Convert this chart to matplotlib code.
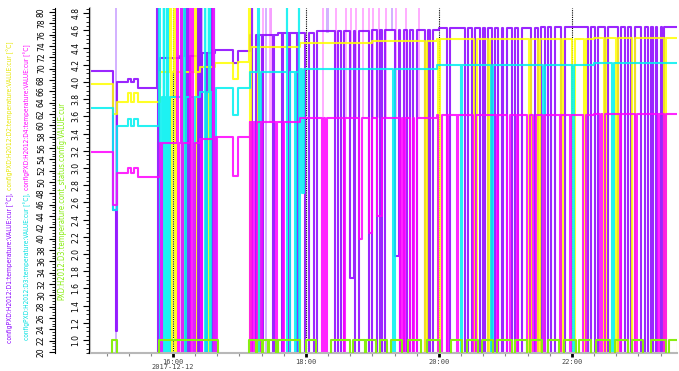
import numpy as np
import pandas as pd
import matplotlib
matplotlib.use("Agg")
import matplotlib.pyplot as plt
import matplotlib.dates as mdates
from matplotlib.ticker import MultipleLocator, FixedLocator, FixedFormatter, FormatStrFormatter

T0 = pd.Timestamp("2017-12-12 14:00")

# plateau levels: minutes after 14:00 -> degC
d1_t = [44, 69.5, 79.3, 82, 84.7, 88.4, 108.2, 126, 144.4, 158, 174.2, 178.7, 189.6, 215, 250, 300, 360, 450, 520, 576]
d1_v = [69.6, 67.6, 68.2, 67.6, 68.2, 66.6, 71.9, 72.2, 72.8, 73.3, 71.0, 73.1, 75.9, 76.3, 76.6, 76.9, 77.2, 77.3, 77.4, 77.4]
d2_t = [44, 69.5, 79.3, 82, 84.7, 88.4, 108.2, 144.4, 158, 174.2, 178.7, 189.6, 234.6, 300, 358, 500, 576]
d2_v = [67.3, 64.1, 65.7, 64.1, 65.7, 64.1, 69.4, 70.3, 71.0, 68.2, 71.2, 73.8, 74.5, 74.8, 75.2, 75.4, 75.4]
d3_t = [44, 69.5, 79.3, 82, 84.7, 88.4, 108.2, 144.4, 158, 174.2, 178.7, 189.6, 234.6, 358, 500, 576]
d3_v = [63.0, 59.9, 61.1, 59.9, 61.1, 59.9, 65.0, 65.8, 66.6, 61.8, 66.6, 69.4, 69.9, 70.7, 71.0, 71.0]
d4_t = [44, 69.5, 79.3, 82, 84.7, 88.4, 108.2, 144.4, 158, 174.2, 178.7, 189.6, 234.6, 358, 500, 576]
d4_v = [55.3, 51.6, 52.5, 51.6, 52.5, 50.9, 56.9, 57.5, 58.0, 51.1, 58.0, 60.5, 61.3, 61.8, 62.0, 62.0]

# readout glitches: (start, end, level) - 0 is below range, 100 above range
d1_evt = [(65.9, 68.5, 45), (68.5, 69.5, 23.6),
          (106.0, 106.7, 100), (106.7, 107.8, 0), (131.0, 131.6, 100), (131.6, 132.5, 0),
          (133.0, 133.6, 100), (133.6, 135.0, 0), (142.3, 142.9, 100), (142.9, 144.0, 0),
          (144.5, 145.1, 100), (145.1, 146.0, 0), (149.5, 150.5, 0), (154.8, 155.4, 100), (155.4, 157.0, 0),
          (191.0, 191.6, 100), (191.6, 194.5, 0), (196.0, 197.2, 0), (200.5, 201.5, 0), (210.0, 211.2, 0),
          (218.5, 219.6, 0), (224.5, 226.0, 0), (232.0, 233.2, 0),
          (239.5, 242.5, 0), (247, 250, 0), (266.5, 269, 0), (271.5, 274, 0), (280, 283, 33),
          (284.5, 287.5, 0), (296.5, 299.5, 0), (304, 306.5, 0), (309, 311.5, 0), (320.5, 323.5, 37),
          (325, 328, 0), (331, 334, 0), (337, 340, 0), (347.5, 350.5, 0), (352, 355, 0), (367, 370, 0),
          (383.5, 386.5, 0), (389.5, 392.5, 0), (397, 400, 0), (401.5, 404.5, 0), (407.5, 410.5, 0),
          (413.5, 416.5, 0), (418, 421, 0), (425.5, 428.5, 0), (431.5, 434.5, 0), (443.5, 446.5, 0),
          (449.5, 452.5, 0), (455.5, 458.5, 0), (461.5, 464.5, 0), (470.5, 473.5, 0), (494.5, 497.5, 0),
          (500.5, 503.5, 0), (509.5, 512.5, 0), (521.5, 524.5, 0), (527.5, 530.5, 0), (533.5, 536.5, 0),
          (542.5, 545.5, 0), (548.5, 551.5, 0), (553, 556, 0), (557, 560.5, 0), (561.5, 563.5, 0)]
d2_evt = [(65.9, 69.5, 62),
          (117.5, 118.1, 100), (118.1, 119.0, 0), (121.3, 122.0, 100), (122.0, 123.0, 0),
          (128.8, 129.4, 100), (129.4, 130.3, 0), (139.8, 140.4, 100), (140.4, 141.2, 0), (152.5, 153.2, 0),
          (188.6, 189.2, 100), (189.2, 190.2, 0), (197.0, 198.0, 0),
          (347, 349, 0), (359, 361, 0), (392, 394, 0), (404, 406, 0), (441.5, 443.5, 0), (449, 451, 0),
          (470, 472, 0), (480.5, 482.5, 0), (491, 493, 0), (509, 511, 0), (519.5, 521.5, 0),
          (534.5, 536.5, 0), (563, 565, 0)]
d3_evt = [(65.9, 69.5, 45),
          (107.5, 108.3, 100), (108.3, 109.8, 0), (111.5, 112.3, 100), (112.3, 113.8, 0),
          (114.5, 115.3, 100), (115.3, 117.0, 0), (127.0, 127.7, 100), (127.7, 128.8, 0),
          (129.8, 130.4, 100), (130.4, 131.5, 0), (139.0, 140.0, 0),
          (148.5, 149.2, 100), (149.2, 151.0, 0), (152.5, 153.1, 100), (153.1, 154.2, 0),
          (156.8, 157.4, 100), (157.4, 158.5, 0),
          (197.0, 197.6, 100), (197.6, 199.8, 0), (222.5, 223.2, 100), (223.2, 225.5, 0), (230.0, 231.0, 0),
          (233.5, 234.1, 100), (234.1, 235.0, 0), (236.5, 238.0, 48),
          (318.5, 320, 0), (379.5, 381, 0), (407, 408.5, 0), (454, 455.5, 0), (480.5, 482, 0), (516.5, 518, 0)]
d4_evt = [(65.9, 69.5, 46),
          (108.8, 110.5, 0), (123.5, 124.3, 100), (124.3, 125.5, 0), (127.5, 128.1, 100), (128.1, 129.2, 0),
          (135.5, 136.1, 100), (136.1, 137.0, 0), (137.5, 138.2, 100), (138.2, 140.0, 0),
          (145.6, 146.5, 0), (156.0, 156.6, 100), (156.6, 158.0, 0), (158.5, 159.3, 0),
          (189.8, 191, 0), (191.5, 193, 0), (193.5, 195.5, 0), (199.0, 200.5, 0), (212.5, 213.5, 0), (219, 220, 0),
          (254.5, 256.5, 0), (257, 259, 0), (274, 275.5, 0), (287.5, 290.5, 40), (296.5, 299.5, 41),
          (304, 308.5, 44), (325, 327, 0), (327.8, 329.5, 0), (334, 336.5, 0), (337.5, 340, 0),
          (359.5, 362.5, 0), (367, 368.5, 0), (376, 377.5, 0), (391, 393.5, 0), (412, 413.5, 0),
          (421, 424, 0), (430, 431.5, 0), (439, 442, 0), (445, 448, 0), (454, 455.5, 0), (469, 470.5, 0),
          (478, 479.5, 0), (490, 493, 0), (505, 507, 0), (507.5, 509.5, 0), (523, 524.5, 0),
          (536.5, 538.5, 0), (557.5, 559, 0), (563.5, 565, 0)]

# min/max envelope of binned samples: (start, end, low, high)
d1_env = [(67.5, 69.0, 0, 100), (142.0, 146.0, 0, 100), (203.0, 204.0, 0, 100), (207.5, 208.5, 76, 100),
          (258.5, 259.5, 76.5, 100), (317.0, 318.0, 77, 100)]
d3_env = [(110.5, 116.5, 0, 100), (149.0, 153.0, 0, 100)]
d4_env = [(126.0, 128.0, 0, 100), (140.5, 142.5, 0, 100), (200.0, 201.0, 60.5, 100),
          (207.0, 208.5, 60.5, 100), (254.5, 255.5, 61.2, 100), (266.0, 267.0, 61.3, 100),
          (275.0, 276.0, 61.3, 100), (279.5, 280.5, 61.3, 100), (284.0, 285.0, 61.4, 100),
          (290.5, 291.5, 61.4, 100), (296.0, 297.0, 61.4, 100), (299.5, 300.5, 61.4, 100),
          (305.0, 306.0, 61.5, 100), (311.0, 312.0, 61.5, 100), (320.5, 321.5, 61.5, 100),
          (329.5, 330.5, 61.6, 100), (341.0, 342.0, 61.6, 100)]

# controller status "on" intervals
status_on = [(65.3, 69.4), (107.8, 160.5), (189.0, 194.5), (195.5, 200.5), (201.5, 206.0), (207.0, 212.5),
             (214.5, 235.0), (240.0, 248.8), (262.5, 279.5), (282.7, 293.0), (294.5, 303.0), (306.7, 313.5),
             (316.8, 327.0), (332.0, 344.0), (349.0, 361.0), (371.0, 381.0), (385.0, 395.0), (398.5, 408.5),
             (412.0, 425.6), (429.0, 439.0), (442.5, 452.7), (458.0, 468.0), (473.0, 483.4), (486.8, 497.0),
             (502.0, 514.0), (519.0, 531.0), (534.0, 544.0), (551.0, 564.8), (568.0, 576.0)]

tick_minutes = [120, 240, 360, 480]
tick_labels = ["16:00\n2017-12-12", "18:00", "20:00", "22:00"]


def to_dt(m):
    return (T0 + pd.to_timedelta(np.asarray(m, dtype=float), unit="min")).to_numpy()


def build(base_t, base_v, events):
    times = sorted(set(base_t) | {e[0] for e in events} | {e[1] for e in events})
    vals = []
    for x in times:
        lvl = None
        for s, e, l in events:
            if s <= x < e:
                lvl = l
        if lvl is None:
            lvl = base_v[np.searchsorted(base_t, x, side="right") - 1]
        vals.append(lvl)
    return to_dt(times), vals


fig = plt.figure(figsize=(6.79, 3.71), dpi=100)
ax = fig.add_axes([89 / 679, 1 - 353 / 371, 588 / 679, 345 / 371])
ax2 = ax.twinx()

series = [
    (d1_t, d1_v, d1_evt, d1_env, "#8a00ff", "#c9a0ff"),
    (d2_t, d2_v, d2_evt, [], "#ffff00", "#ffff99"),
    (d3_t, d3_v, d3_evt, d3_env, "#00f0f0", "#b0ffff"),
    (d4_t, d4_v, d4_evt, d4_env, "#ff00ff", "#ff9cff"),
]
for bt, bv, ev, env, col, light in series:
    for s, e, lo, hi in env:
        ax.fill_between(to_dt([s, e]), lo, hi, color=light, lw=0.6, alpha=0.8)
    x, y = build(bt, bv, ev)
    ax.plot(x, y, drawstyle="steps-post", color=col, lw=1.5, alpha=0.85)

st_t, st_v = [44], [0]
for s, e in status_on:
    st_t += [s, e]
    st_v += [1, 0]
ax2.plot(to_dt(st_t), st_v, drawstyle="steps-post", color="#88ee11", lw=1.5)

ax.set_xlim(to_dt([44.2, 574.8]))
ax.set_ylim(19.8, 80.7)
ax2.set_ylim(0.85, 4.86)

# x axis
ax.xaxis.set_major_locator(FixedLocator(mdates.date2num(to_dt(tick_minutes))))
ax.xaxis.set_major_formatter(FixedFormatter(tick_labels))
ax.xaxis.set_minor_locator(mdates.MinuteLocator(byminute=[0, 20, 40]))
ax.tick_params(axis="x", which="major", length=3, width=2, color="black", pad=1,
               labelsize=5, labelcolor="#444444")
ax.tick_params(axis="x", which="minor", length=2, width=0.8, color="#888888")
for lbl in ax.get_xticklabels():
    lbl.set_family("DejaVu Sans Mono")
    lbl.set_linespacing(0.9)
ax.grid(axis="x", which="major", color="black", linestyle=(0, (1, 1)), lw=0.8)

# temperature axis, pushed out to the left
ax.spines["left"].set_position(("axes", -34 / 588))
ax.spines["left"].set_color("black")
ax.spines["left"].set_linewidth(0.8)
ax.spines["bottom"].set_color("#b8b8b8")
ax.spines["bottom"].set_linewidth(1.5)
ax.spines["top"].set_visible(False)
ax.spines["right"].set_visible(False)
ax.yaxis.set_major_locator(MultipleLocator(2))
ax.yaxis.set_minor_locator(MultipleLocator(0.5))
ax.tick_params(axis="y", which="major", length=4, width=0.8, pad=2.5, labelsize=5.5, labelrotation=90)
ax.tick_params(axis="y", which="minor", length=2, width=0.6)
for lbl in ax.get_yticklabels():
    lbl.set_va("center")

# status axis at the plot edge
ax2.yaxis.set_ticks_position("left")
ax2.yaxis.set_label_position("left")
ax2.spines["left"].set_visible(True)
ax2.spines["left"].set_position(("axes", 0))
ax2.spines["left"].set_linewidth(0.8)
for sp in ["right", "top", "bottom"]:
    ax2.spines[sp].set_visible(False)
ax2.set_yticks(np.arange(1.0, 4.81, 0.2))
ax2.yaxis.set_major_formatter(FormatStrFormatter("%.1f"))
ax2.yaxis.set_minor_locator(MultipleLocator(0.05))
ax2.tick_params(axis="y", which="major", length=4, width=0.8, pad=2, labelsize=5.5, labelrotation=90)
ax2.tick_params(axis="y", which="minor", length=2, width=0.6)
for lbl in ax2.get_yticklabels():
    lbl.set_va("center")
ax2.plot([0.002, 0.002], [0, 1], transform=ax2.transAxes, color="#c8c8c8", lw=1.5, clip_on=False)

# axis titles, stacked in colour pieces around a centre line
renderer = fig.canvas.get_renderer()
title_family = ["Liberation Sans Narrow", "DejaVu Sans"]


def stack_text(xpix, ybot_pix, ytop_pix, pieces, min_size=4.7):
    size = 6.0
    total = 0
    for s, c in pieces:
        t = fig.text(0, 0, s, rotation=90, fontsize=size, family=title_family, fontstretch="condensed")
        total += t.get_window_extent(renderer).height
        t.remove()
    fit = size * (ybot_pix - ytop_pix) / total
    size = max(fit, min_size)
    length = total * size / 6.0
    centre = (ybot_pix + ytop_pix) / 2
    y = 1 - (centre + length / 2) / 371
    for s, c in pieces:
        t = fig.text(xpix / 679, y, s, color=c, rotation=90, ha="center", va="bottom",
                     fontsize=size, family=title_family, fontstretch="condensed")
        bb = t.get_window_extent(renderer)
        y = bb.y1 / fig.bbox.height


stack_text(10, 343, 40, [("configPXD:H2012:D1:temperature:VALUE:cur [°C], ", "#8a00ff"),
                         ("configPXD:H2012:D2:temperature:VALUE:cur [°C]", "#e6e600")])
stack_text(27, 333, 50, [("configPXD:H2012:D3:temperature:VALUE:cur [°C], ", "#00e0e0"),
                         ("configPXD:H2012:D4:temperature:VALUE:cur [°C]", "#ff00ff")])
stack_text(62, 300, 100, [("PXD:H2012:D3:temperature.cont_status.config:VALUE:cur", "#88ee11")])

fig.savefig("out.png", dpi=100)
